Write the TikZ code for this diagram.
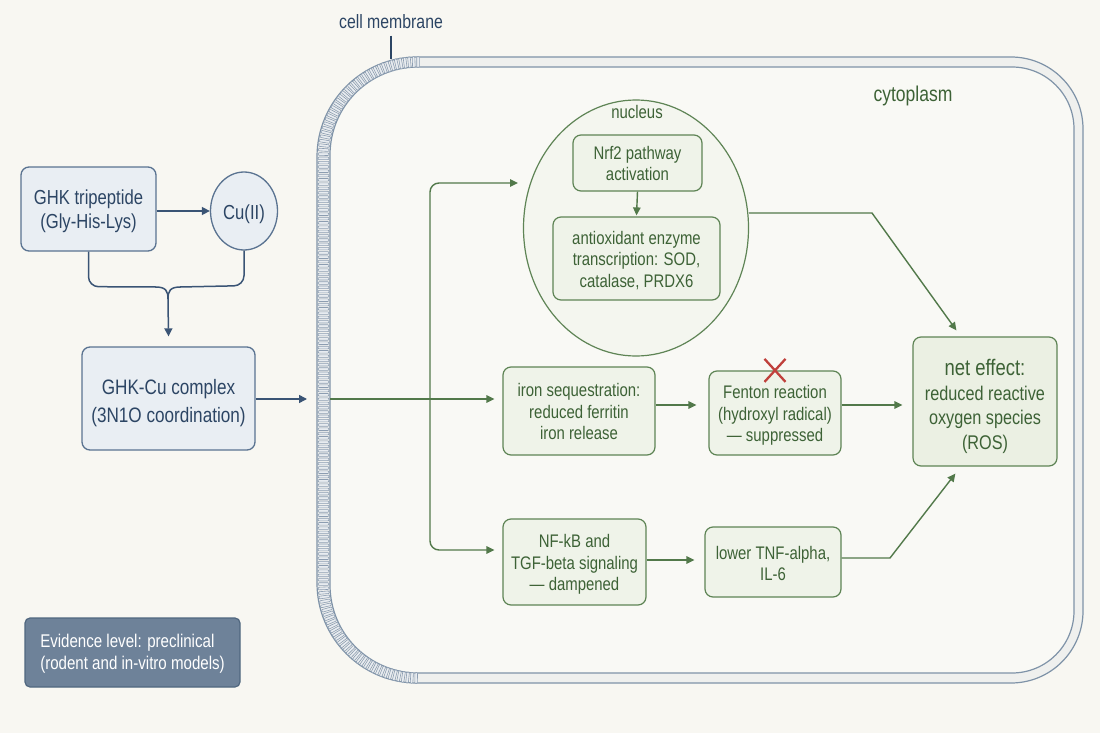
\documentclass[tikz,border=0pt]{standalone}
\usepackage{fontspec}
\setmainfont{Liberation Sans}[FakeStretch=0.82]
\usetikzlibrary{arrows.meta,decorations.markings,shapes.geometric,calc}
\definecolor{bg}{HTML}{F8F7F2}
\definecolor{cellfill}{HTML}{F9F9F5}
\definecolor{bandfill}{HTML}{EFF0EE}
\definecolor{membdraw}{HTML}{7F93A8}
\definecolor{rungdraw}{HTML}{8C9DB1}
\definecolor{rungfill}{HTML}{E8ECF0}
\definecolor{navytext}{HTML}{2C4564}
\definecolor{navyline}{HTML}{3A5475}
\definecolor{bluefill}{HTML}{E9EEF3}
\definecolor{bluedraw}{HTML}{5A7391}
\definecolor{greentext}{HTML}{3D6236}
\definecolor{greenline}{HTML}{52794A}
\definecolor{greendraw}{HTML}{5E8455}
\definecolor{greenfill}{HTML}{EFF3E9}
\definecolor{netfill}{HTML}{EBF0E3}
\definecolor{nucfill}{HTML}{F4F6EF}
\definecolor{evfill}{HTML}{6E8299}
\definecolor{evdraw}{HTML}{50677F}
\definecolor{redx}{HTML}{C0403C}
\newcommand\fsz[2]{\fontsize{#1}{#2}\selectfont}
\newcommand\boxlines[3][c]{\raisebox{-#2}[\height][\depth]{\begin{tabular}{@{}#1@{}}#3\end{tabular}}}
\tikzset{
  bbox/.style={draw=bluedraw, fill=bluefill, line width=1.3pt, rounded corners=8pt, text=navytext, inner sep=0pt},
  gbox/.style={draw=greendraw, fill=greenfill, line width=1.2pt, rounded corners=8pt, text=greentext, inner sep=0pt, font=\fsz{18.2}{21.5}},
  narrow/.style={-{Triangle[length=8pt,width=8pt]}, draw=navyline, line width=1.5pt},
  nline/.style={draw=navyline, line width=1.5pt},
  garrow/.style={-{Triangle[length=8pt,width=7.5pt]}, draw=greenline, line width=1.4pt},
  memb/.style={draw=membdraw, line width=1.2pt},
  rungs/.style={decorate, decoration={markings, mark=between positions 0 and 1 step 4.3pt with {\draw[draw=rungdraw, fill=rungfill, line width=0.6pt, rounded corners=1pt] (-1.3pt,-5.5pt) rectangle (1.3pt,5.5pt);}}},
}
\begin{document}
\begin{tikzpicture}[x=1pt,y=-1pt]
\fill[bg] (0,0) rectangle (1100,733);
\useasboundingbox (0,0) rectangle (1100,733);

% cell membrane
\fill[bandfill] (700,57) [rounded corners=100pt] -- (317,57) -- (317,683) -- (700,683) [rounded corners=72pt] -- (1083,683) -- (1083,57) -- cycle;
\fill[cellfill] (700,67) [rounded corners=88pt] -- (330,67) -- (330,673) -- (700,673) [rounded corners=62pt] -- (1074,673) -- (1074,67) -- cycle;
\draw[memb] (700,57) [rounded corners=100pt] -- (317,57) -- (317,683) -- (700,683) [rounded corners=72pt] -- (1083,683) -- (1083,57) -- cycle;
\draw[memb] (700,67) [rounded corners=88pt] -- (330,67) -- (330,673) -- (700,673) [rounded corners=62pt] -- (1074,673) -- (1074,67) -- cycle;
\path[rungs] (418,62) [rounded corners=94pt] -- (323.5,62) -- (323.5,678) -- (418,678);

\node[text=navytext, font=\fsz{19.3}{21}] (cm) at (391,22) {cell membrane};
\coordinate (cmtick) at (391,59);
\draw[draw=navytext, line width=1.2pt] ($(cm.south)+(0,3)$) -- (cmtick);

\node[text=greentext, font=\fsz{21.4}{23}] (cyto) at (913,96) {cytoplasm};

% left side
\node[bbox, font=\fsz{20.3}{24}, minimum width=135pt, minimum height=84pt] (ghk) at (88.5,209) {\boxlines{2.5pt}{GHK tripeptide\\(Gly-His-Lys)}};
\node[bbox, ellipse, font=\fsz{20.3}{22}, minimum width=67pt, minimum height=78pt] (cu) at (244,211) {\boxlines{4.5pt}{Cu(II)}};
\node[bbox, font=\fsz{20.9}{28}, minimum width=173pt, minimum height=103pt] (gc) at (168.5,398.5) {\boxlines{4.5pt}{GHK-Cu complex\\(3N1O coordination)}};

\draw[narrow] (ghk.east |- cu.west) -- (cu.west);
\coordinate (mrg) at (168,287);
\draw[nline, rounded corners=10pt] (ghk.south) -- ($(ghk.south)+(0,35)$) -- ($(mrg)+(-12,0)$);
\draw[nline, rounded corners=10pt] (cu.south) -- ($(cu.south)+(0,35)$) -- ($(mrg)+(12,0)$);
\draw[nline] ($(mrg)+(-12.5,0)$) .. controls ($(mrg)+(-2,0)$) and ($(mrg)+(0,4)$) .. ($(mrg)+(0,12)$);
\draw[nline] ($(mrg)+(12.5,0)$) .. controls ($(mrg)+(2,0)$) and ($(mrg)+(0,4)$) .. ($(mrg)+(0,12)$);
\draw[narrow] ($(mrg)+(0,11)$) -- ($(gc.north)+(0,-10)$);

\coordinate (memin) at (307,399);
\draw[narrow] (gc.east |- memin) -- (memin);

% evidence
\node[draw=evdraw, fill=evfill, line width=1.2pt, rounded corners=5pt, text=white, font=\fsz{18.4}{22}, inner sep=0pt, minimum width=215pt, minimum height=69pt] (ev) at (132.5,652.5) {\boxlines[l]{2pt}{Evidence level: preclinical\\(rodent and in-vitro models)}};

% nucleus
\node[draw=greendraw, fill=nucfill, line width=1.2pt, ellipse, minimum width=225pt, minimum height=256pt] (nuc) at (636,228) {};
\node[text=greentext, font=\fsz{18.2}{20}] (nuclbl) at (637,112) {nucleus};
\node[gbox, minimum width=129pt, minimum height=56pt] (nrf) at (637.5,163) {\boxlines{2.5pt}{Nrf2 pathway\\activation}};
\node[gbox, minimum width=167pt, minimum height=83pt] (aox) at (636.5,258.5) {\boxlines{3pt}{antioxidant enzyme\\transcription: SOD,\\catalase, PRDX6}};
\draw[garrow] (nrf.south) -- ($(aox.north)+(0,-1)$);

% pathway boxes
\node[gbox, minimum width=152pt, minimum height=88pt] (iron) at (579,411) {\boxlines{3pt}{iron sequestration:\\reduced ferritin\\iron release}};
\node[gbox, minimum width=132pt, minimum height=84pt] (fen) at (775,413) {\boxlines{3pt}{Fenton reaction\\(hydroxyl radical)\\— suppressed}};
\node[gbox, fill=netfill, minimum width=144pt, minimum height=129pt, font=\fsz{19.8}{24.5}] (net) at (985,401.5) {\boxlines{6pt}{{\fsz{22.5}{24.5}net effect:}\\reduced reactive\\oxygen species\\(ROS)}};
\node[gbox, minimum width=143pt, minimum height=86pt] (nfk) at (574.5,562) {\boxlines{3pt}{NF-kB and\\TGF-beta signaling\\— dampened}};
\node[gbox, minimum width=136pt, minimum height=70pt] (tnf) at (773,562) {\boxlines{3.5pt}{lower TNF-alpha,\\IL-6}};

% red cross
\draw[draw=redx, line width=2.3pt] ($(fen.north)+(-10.5,-11.5)$) -- ($(fen.north)+(10.5,11.5)$);
\draw[draw=redx, line width=2.3pt] ($(fen.north)+(10.5,-11.5)$) -- ($(fen.north)+(-10.5,11.5)$);

% trunk
\coordinate (entry) at (330,399);
\coordinate (trunk) at (430,399);
\coordinate (nucin) at (518,183);
\draw[garrow] (entry) -- ($(iron.west |- entry)+(-8,0)$);
\draw[garrow, rounded corners=9pt] (trunk) |- (nucin);
\draw[garrow, rounded corners=9pt] (trunk) |- ($(nfk.west)+(-8,-12)$);

% horizontal connections
\draw[garrow] ($(iron.east)+(0,-6)$) -- ($(fen.west)+(-12,-8)$);
\draw[garrow] ($(fen.east)+(0,-8)$) -- ($(net.west)+(-10,3.5)$);
\draw[garrow] ($(nfk.east)+(0,-2)$) -- ($(tnf.west)+(-10,-2)$);

% to net effect
\coordinate (nbend) at (872,213);
\coordinate (tbend) at (890,558);
\draw[garrow] (nuc.east |- nbend) -- (nbend) -- ($(net.north west)+(44,-6)$);
\draw[garrow] (tnf.east |- tbend) -- (tbend) -- ($(net.south west)+(43,7)$);
\end{tikzpicture}
\end{document}
